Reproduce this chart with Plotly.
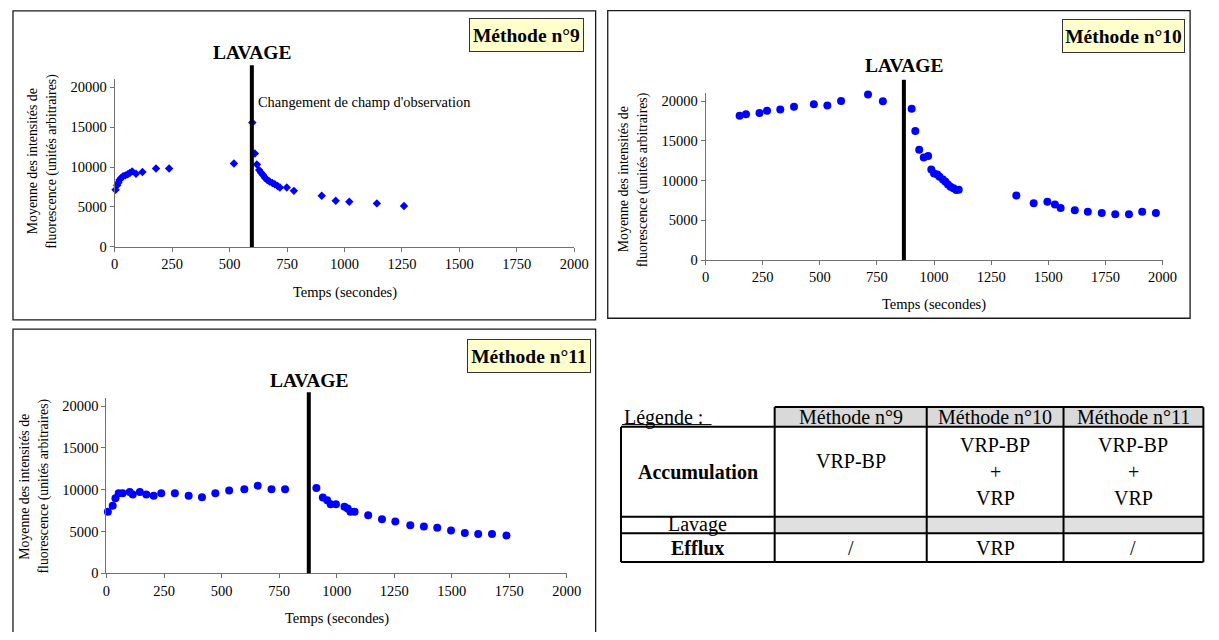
import plotly.graph_objects as go

# ---------------- data ----------------
t9 = [4, 11, 16, 21, 29, 37, 47, 57, 66, 76, 93, 121, 180, 237, 519, 599, 610, 619, 629, 637,
      646, 654, 664, 674, 686, 697, 709, 719, 749, 780, 901, 962, 1021, 1141, 1259]
v9 = [7150, 7720, 8050, 8380, 8670, 8840, 8960, 9090, 9250, 9460, 9170, 9380, 9830, 9830, 10450,
      15570, 11690, 10330, 9620, 9290, 9000, 8670, 8380, 8180, 8010, 7850, 7640, 7430, 7430, 7020,
      6400, 5780, 5660, 5450, 5110]

t10 = [149, 177, 236, 269, 327, 387, 474, 533, 593, 711, 776, 902, 918, 935, 955, 974, 988, 1000,
       1014, 1024, 1039, 1050, 1061, 1072, 1085, 1097, 1108, 1360, 1436, 1496, 1529, 1554, 1616,
       1673, 1734, 1793, 1853, 1911, 1971]
v10 = [18170, 18340, 18500, 18790, 18960, 19290, 19620, 19450, 20030, 20820, 20000, 19040, 16230,
       13870, 12920, 13080, 11390, 10890, 10760, 10470, 10140, 9850, 9520, 9230, 9030, 8820, 8860,
       8110, 7160, 7330, 7000, 6540, 6250, 6090, 5920, 5750, 5750, 6090, 5920]

t11 = [6, 27, 39, 53, 70, 101, 114, 145, 173, 205, 238, 297, 357, 415, 473, 533, 599, 657, 717, 776,
       912, 940, 959, 974, 997, 1034, 1048, 1060, 1078, 1137, 1197, 1255, 1320, 1379, 1437, 1497,
       1557, 1615, 1675, 1738]
v11 = [7370, 8080, 8980, 9570, 9570, 9730, 9420, 9730, 9420, 9260, 9570, 9570, 9260, 9100, 9570,
       9890, 10050, 10480, 10050, 10050, 10200, 9060, 8750, 8270, 8270, 7960, 7760, 7370, 7370, 6930,
       6460, 6190, 5750, 5590, 5440, 5120, 4810, 4690, 4690, 4530]

lavage_t = [597, 868, 879]
method_names = ["Méthode n°9", "Méthode n°10", "Méthode n°11"]
lavage_label = "LAVAGE"
note_text = "Changement de champ d'observation"
note_pos = (615, 18100)
x_title = "Temps (secondes)"
y_title_lines = ["Moyenne des intensités de", "fluorescence (unités arbitraires)"]

table_header = ["Méthode n°9", "Méthode n°10", "Méthode n°11"]
table_rows = ["Accumulation", "Lavage", "Efflux"]
table_cells = [
    [["VRP-BP"], ["VRP-BP", "+", "VRP"], ["VRP-BP", "+", "VRP"]],
    [[""], [""], [""]],
    [["/"], ["VRP"], ["/"]],
]
legend_title = "Légende :"

# ---------------- layout helpers ----------------
W, H = 1219, 640
OFF = 8  # page body margin on every side
FW, FH = W - 2 * OFF, H - 2 * OFF
FONT = "Liberation Serif, Times New Roman, DejaVu Serif, serif"


def px(x):
    return (x - OFF) / FW


def py(y):
    return 1 - (y - OFF) / FH


panels = [
    dict(xl=112.3, xr=579.3, yb=250.0, yt=80.2, frame=(9, 11, 601, 324),
         line_top=66, lav_y=53, box=(530.3, 35.5, 113), ytl=(28.5, 48.5, 163), xt=(346, 296),
         t=t9, v=v9, symbol="diamond", size=6.5),
    dict(xl=712.7, xr=1177.0, yb=263.3, yt=94.3, frame=(613.3, 10.7, 1205, 322.3),
         line_top=80.7, lav_y=66.3, box=(1137.5, 36, 121), ytl=(629.5, 650, 181.7), xt=(945, 308.3),
         t=t10, v=v10, symbol="circle", size=8),
    dict(xl=104.0, xr=571.7, yb=580.7, yt=402.7, frame=(9, 333.3, 601, 660),
         line_top=397.3, lav_y=385, box=(533, 360.3, 122), ytl=(20.7, 40.7, 492.5), xt=(338, 626.7),
         t=t11, v=v11, symbol="circle", size=8),
]

fig = go.Figure()
shapes = []
annotations = []
layout_axes = {}

for i, p in enumerate(panels):
    n = "" if i == 0 else str(i + 1)
    xa, ya = "x" + n, "y" + n
    fig.add_trace(go.Scatter(
        x=p["t"], y=p["v"], mode="markers", xaxis=xa, yaxis=ya, showlegend=False,
        marker=dict(symbol=p["symbol"], size=p["size"], color="#0000FF", line=dict(width=0)),
        cliponaxis=False,
    ))
    axis_common = dict(showgrid=False, zeroline=False, showline=True, linecolor="#707070",
                       linewidth=1, ticks="outside", ticklen=4, tickcolor="#707070",
                       tickformat="d",
                       tickfont=dict(family=FONT, size=14.5, color="black"), fixedrange=True)
    layout_axes["xaxis" + n] = dict(axis_common, domain=[px(p["xl"]), px(p["xr"])],
                                     range=[0, 2000], dtick=250, tick0=0, anchor=ya)
    layout_axes["yaxis" + n] = dict(axis_common, domain=[py(p["yb"]), py(p["yt"])],
                                     range=[0, 21000], dtick=5000, tick0=0, anchor=xa)

    fx0, fy0, fx1, fy1 = p["frame"]
    shapes.append(dict(type="rect", xref="paper", yref="paper", x0=px(fx0), x1=px(fx1),
                       y0=py(fy0), y1=py(fy1), line=dict(color="#1a1a1a", width=1.3)))
    shapes.append(dict(type="line", xref=xa, yref="paper", x0=lavage_t[i], x1=lavage_t[i],
                       y0=py(p["yb"]), y1=py(p["line_top"]), line=dict(color="black", width=4)))
    annotations.append(dict(text="<b>" + lavage_label + "</b>", xref=xa, yref="paper",
                            x=lavage_t[i], y=py(p["lav_y"]), showarrow=False,
                            xanchor="center", yanchor="middle",
                            font=dict(family=FONT, size=19.5, color="black")))
    bx, by, bw = p["box"]
    annotations.append(dict(text="<b>" + method_names[i] + "</b>", xref="paper", yref="paper",
                            x=px(bx), y=py(by), showarrow=False, xanchor="center", yanchor="middle",
                            width=bw, height=32, bgcolor="#FFFFCC", bordercolor="#333333",
                            borderwidth=1, borderpad=0,
                            font=dict(family=FONT, size=19.5, color="black")))
    l1, l2, yc = p["ytl"]
    for xx, line in zip((l1, l2), y_title_lines):
        annotations.append(dict(text=line, xref="paper", yref="paper", x=px(xx), y=py(yc),
                                textangle=-90, showarrow=False, xanchor="center", yanchor="middle",
                                font=dict(family=FONT, size=13.8, color="black")))
    annotations.append(dict(text=x_title, xref="paper", yref="paper", x=px(p["xt"][0]),
                            y=py(p["xt"][1]), showarrow=False, xanchor="center", yanchor="middle",
                            font=dict(family=FONT, size=14.5, color="black")))

annotations.append(dict(text=note_text, xref="x", yref="y", x=note_pos[0], y=note_pos[1],
                        showarrow=False, xanchor="left", yanchor="middle",
                        font=dict(family=FONT, size=14.4, color="black")))

# ---------------- table ----------------
cols = [626.8, 782.9, 937.4, 1076.4, 1218.5]
rows = [412.3, 432.3, 523.3, 540, 569.3]
BL = dict(color="black", width=2)
for c in range(1, 4):
    shapes.append(dict(type="rect", xref="paper", yref="paper", layer="below",
                       x0=px(cols[c]), x1=px(cols[c + 1]), y0=py(rows[0]), y1=py(rows[1]),
                       fillcolor="#D9D9D9", line=dict(width=0)))
    shapes.append(dict(type="rect", xref="paper", yref="paper", layer="below",
                       x0=px(cols[c]), x1=px(cols[c + 1]), y0=py(rows[2]), y1=py(rows[3]),
                       fillcolor="#E0E0E0", line=dict(width=0)))
shapes.append(dict(type="line", xref="paper", yref="paper", x0=px(cols[1]), x1=px(cols[4]),
                   y0=py(rows[0]), y1=py(rows[0]), line=BL))
for r in rows[1:]:
    shapes.append(dict(type="line", xref="paper", yref="paper", x0=px(cols[0]), x1=px(cols[4]),
                       y0=py(r), y1=py(r), line=BL))
shapes.append(dict(type="line", xref="paper", yref="paper", x0=px(cols[0]), x1=px(cols[0]),
                   y0=py(rows[1]), y1=py(rows[4]), line=BL))
for c in cols[1:]:
    shapes.append(dict(type="line", xref="paper", yref="paper", x0=px(c), x1=px(c),
                       y0=py(rows[0]), y1=py(rows[4]), line=BL))

TF = dict(family=FONT, size=20, color="black")
annotations.append(dict(text=legend_title, xref="paper", yref="paper",
                        x=px(cols[0] + 1), y=py((rows[0] + rows[1]) / 2 + 1), showarrow=False,
                        xanchor="left", yanchor="middle", font=TF))
# underline of "Légende :"
shapes.append(dict(type="line", xref="paper", yref="paper", x0=px(cols[0] + 1), x1=px(cols[0] + 92),
                   y0=py(430), y1=py(430), line=dict(color="black", width=1)))
for c, h in enumerate(table_header):
    annotations.append(dict(text=h, xref="paper", yref="paper",
                            x=px((cols[c + 1] + cols[c + 2]) / 2), y=py((rows[0] + rows[1]) / 2),
                            showarrow=False, xanchor="center", yanchor="middle", font=TF))
for r, name in enumerate(table_rows):
    ymid = (rows[r + 1] + rows[r + 2]) / 2
    label = name if name == "Lavage" else "<b>" + name + "</b>"
    annotations.append(dict(text=label, xref="paper", yref="paper",
                            x=px((cols[0] + cols[1]) / 2), y=py(ymid), showarrow=False,
                            xanchor="center", yanchor="middle", font=TF))
    for c, lines in enumerate(table_cells[r]):
        n = len(lines)
        for k, line in enumerate(lines):
            if not line:
                continue
            off = (k - (n - 1) / 2) * 27
            yy = ymid + off if n > 1 else ymid - (11 if r == 0 else 0)
            annotations.append(dict(text=line, xref="paper", yref="paper",
                                    x=px((cols[c + 1] + cols[c + 2]) / 2), y=py(yy),
                                    showarrow=False, xanchor="center", yanchor="middle", font=TF))

fig.update_layout(
    width=FW, height=FH, margin=dict(l=0, r=0, t=0, b=0),
    paper_bgcolor="white", plot_bgcolor="white",
    shapes=shapes, annotations=annotations, showlegend=False,
    font=dict(family=FONT, color="black"),
    **layout_axes,
)

fig.write_html("out.html")
